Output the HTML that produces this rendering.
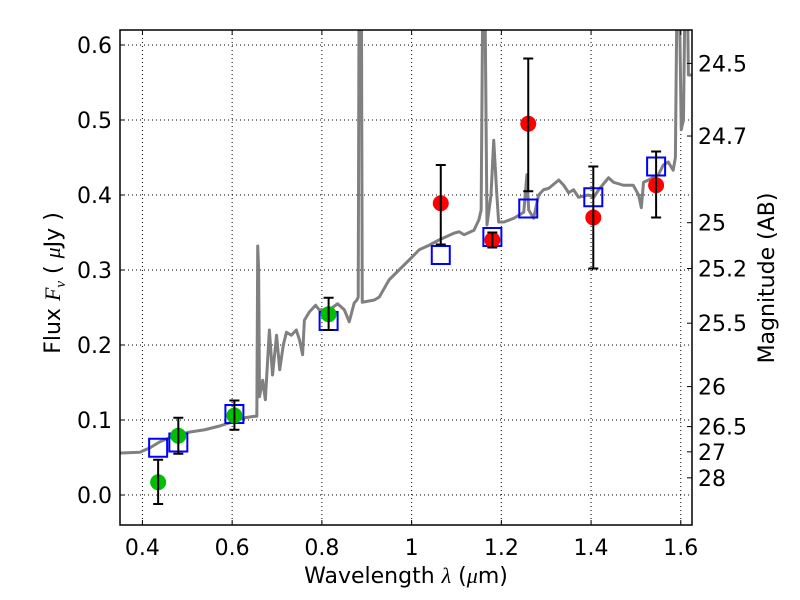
<!DOCTYPE html>
<html><head><meta charset="utf-8"><style>
body{margin:0;background:#fff}
svg{display:block;font-family:"DejaVu Sans","Liberation Sans",sans-serif}
</style></head><body>
<svg id="chart" width="800" height="600" viewBox="0 0 800 600" xmlns="http://www.w3.org/2000/svg">
<rect width="800" height="600" fill="#fff"/>
<g id="grid"></g>
<g id="plot"></g>
<g id="axes"></g>
<text x="406" y="583" font-size="22" text-anchor="middle">Wavelength  <tspan font-style="italic" font-family="Liberation Serif">λ</tspan> (<tspan font-style="italic" font-family="Liberation Serif">μ</tspan>m)</text>
<text transform="translate(60,283) rotate(-90)" font-size="22" text-anchor="middle">Flux  <tspan font-style="italic" font-family="Liberation Serif">F</tspan><tspan font-style="italic" font-family="Liberation Serif" font-size="15" dy="5">ν</tspan><tspan dy="-5">  ( </tspan><tspan font-style="italic" font-family="Liberation Serif">μ</tspan>Jy )</text>
<text transform="translate(774,278) rotate(-90)" font-size="22" text-anchor="middle">Magnitude (AB)</text>
</svg>
<script>
const xTicks=[0.4,0.6,0.8,1.0,1.2,1.4,1.6];
const xTickLabels=["0.4","0.6","0.8","1","1.2","1.4","1.6"];
const yTicks=[0.0,0.1,0.2,0.3,0.4,0.5,0.6];
const yTickLabels=["0.0","0.1","0.2","0.3","0.4","0.5","0.6"];
const magTicks=[24.5,24.7,25,25.2,25.5,26,26.5,27,28];
const magTickLabels=["24.5","24.7","25","25.2","25.5","26","26.5","27","28"];
const specX=[.350,.394,.417,.439,.472,.506,.539,.572,.599,.628,.650,.655,.657,.659,.661,.668,.674,.683,.690,.699,.706,.714,.721,.732,.743,.750,.757,.761,.772,.786,.794,.817,.835,.850,.861,.872,.878,.881,.883,.888,.890,.917,.928,.950,.972,.994,1.017,1.039,1.061,1.094,1.106,1.117,1.139,1.150,1.155,1.159,1.163,1.168,1.177,1.183,1.190,1.194,1.206,1.228,1.239,1.250,1.257,1.261,1.272,1.283,1.294,1.306,1.328,1.339,1.350,1.361,1.372,1.394,1.406,1.417,1.439,1.450,1.472,1.494,1.506,1.512,1.517,1.528,1.550,1.561,1.572,1.583,1.588,1.592,1.596,1.601,1.606,1.610,1.614,1.617,1.625];
const specY=[.056,.057,.063,.071,.079,.084,.087,.092,.097,.103,.105,.105,.332,.30,.131,.153,.127,.220,.160,.213,.167,.200,.217,.213,.220,.207,.187,.233,.244,.253,.247,.247,.255,.247,.231,.256,.260,.264,.7,.7,.257,.260,.264,.287,.300,.313,.327,.333,.340,.349,.351,.347,.353,.367,.38,.7,.7,.360,.40,.473,.40,.364,.364,.369,.373,.377,.427,.380,.369,.400,.407,.409,.420,.413,.403,.407,.397,.400,.397,.407,.423,.417,.413,.413,.400,.383,.417,.420,.427,.440,.444,.433,.45,.7,.7,.487,.50,.7,.7,.56,.56];
const greenX=[0.435,0.48,0.605,0.815];
const greenY=[0.017,0.079,0.106,0.241];
const greenLo=[-0.012,0.055,0.087,0.220];
const greenHi=[0.047,0.103,0.126,0.263];
const redX=[1.065,1.18,1.26,1.405,1.545];
const redY=[0.389,0.340,0.495,0.370,0.413];
const redLo=[0.334,0.330,0.405,0.302,0.370];
const redHi=[0.440,0.350,0.582,0.438,0.458];
const modelX=[0.435,0.48,0.605,0.815,1.065,1.18,1.26,1.405,1.545];
const modelY=[0.063,0.070,0.108,0.232,0.320,0.344,0.382,0.397,0.438];

const L=120,R=692,T=30,B=525,X0=0.35,X1=1.625,Y0=-0.04,Y1=0.62;
const sx=v=>L+(v-X0)/(X1-X0)*(R-L);
const sy=v=>B-(v-Y0)/(Y1-Y0)*(B-T);
const NS="http://www.w3.org/2000/svg";
function mk(tag,parent,attrs){const e=document.createElementNS(NS,tag);for(const k in attrs)e.setAttribute(k,attrs[k]);parent.appendChild(e);return e;}
const grid=document.getElementById('grid'),plot=document.getElementById('plot'),axes=document.getElementById('axes');

xTicks.forEach((t,i)=>{
  const x=sx(t);
  const g=mk('line',grid,{x1:x,x2:x,y1:T,y2:B,stroke:'#000','stroke-width':1,'stroke-dasharray':'1,3'});
  
  
  mk('line',axes,{x1:x,x2:x,y1:B,y2:B-5,stroke:'#000'});
  mk('line',axes,{x1:x,x2:x,y1:T,y2:T+5,stroke:'#000'});
  const lb=mk('text',axes,{x:x,y:B+30,'font-size':22,'text-anchor':'middle'});
  lb.textContent=xTickLabels[i];
  
  
});
yTicks.forEach((t,i)=>{
  const y=sy(t);
  const g=mk('line',grid,{x1:L,x2:R,y1:y,y2:y,stroke:'#000','stroke-width':1,'stroke-dasharray':'1,3'});
  
  
  mk('line',axes,{x1:L,x2:L+5,y1:y,y2:y,stroke:'#000'});
  const lb=mk('text',axes,{x:L-8,y:y+8,'font-size':22,'text-anchor':'end'});
  lb.textContent=yTickLabels[i];
  
  
});
magTicks.forEach((m,i)=>{
  const f=Math.pow(10,(23.9-m)/2.5);
  const y=sy(f);
  mk('line',axes,{x1:R,x2:R-5,y1:y,y2:y,stroke:'#000'});
  const lb=mk('text',axes,{x:R+6,y:y+8,'font-size':22});
  lb.textContent=magTickLabels[i];
  
  
});

const cp=mk('clipPath',plot,{id:'cp'});mk('rect',cp,{x:L,y:T,width:R-L,height:B-T});
const pg=mk('g',plot,{'clip-path':'url(#cp)'});
const sp=mk('polyline',pg,{points:specX.map((x,i)=>sx(x)+','+sy(specY[i])).join(' '),fill:'none',stroke:'#808080','stroke-width':3,'stroke-linejoin':'round'});



function errbar(x,lo,hi){
  const X=sx(x);
  mk('line',pg,{x1:X,x2:X,y1:sy(lo),y2:sy(hi),stroke:'#000','stroke-width':2});
  mk('line',pg,{x1:X-5,x2:X+5,y1:sy(lo),y2:sy(lo),stroke:'#000','stroke-width':2});
  mk('line',pg,{x1:X-5,x2:X+5,y1:sy(hi),y2:sy(hi),stroke:'#000','stroke-width':2});
}
modelX.forEach((x,i)=>{
  const r=mk('rect',pg,{x:sx(x)-9,y:sy(modelY[i])-9,width:18,height:18,fill:'none',stroke:'#0000ff','stroke-width':2});
  
  
});
greenX.forEach((x,i)=>{
  const c=mk('circle',pg,{cx:sx(x),cy:sy(greenY[i]),r:8,fill:'#00bf00'});
  
  
  errbar(x,greenLo[i],greenHi[i]);
});
redX.forEach((x,i)=>{
  const c=mk('circle',pg,{cx:sx(x),cy:sy(redY[i]),r:8,fill:'#ff0000'});
  
  
  errbar(x,redLo[i],redHi[i]);
});
const fr=mk('rect',axes,{x:L,y:T,width:R-L,height:B-T,fill:'none',stroke:'#000','stroke-width':1.5});


</script>
</body></html>
